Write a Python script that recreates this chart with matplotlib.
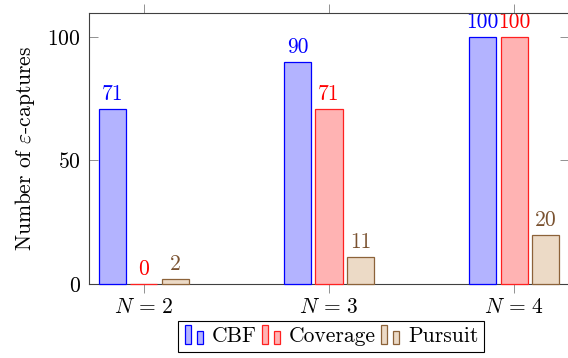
import matplotlib
matplotlib.use('Agg')
import matplotlib.pyplot as plt
from matplotlib.legend_handler import HandlerBase
from matplotlib.patches import Rectangle
import numpy as np

categories = [r'$N\,=\,2$', r'$N\,=\,3$', r'$N\,=\,4$']
series_names = ['CBF', 'Coverage', 'Pursuit']
cbf = [71, 90, 100]
coverage = [0, 71, 100]
pursuit = [2, 11, 20]
yticks = [0, 50, 100]

plt.rcParams['font.family'] = 'serif'
plt.rcParams['font.serif'] = ['cmr10', 'DejaVu Serif']
plt.rcParams['mathtext.fontset'] = 'cm'
plt.rcParams['axes.formatter.use_mathtext'] = True
plt.rcParams['font.size'] = 15.5

fills = ['#b3b3ff', '#ffb3b3', '#ecdac6']
edges = ['#0000ff', '#ff2020', '#8c6239']
label_colors = ['#0000ff', '#ff0000', '#7a5230']


class DoubleBar(HandlerBase):
    def create_artists(self, legend, orig_handle, xdescent, ydescent,
                       width, height, fontsize, trans):
        fc = orig_handle.get_facecolor()
        ec = orig_handle.get_edgecolor()
        x0, y0 = -xdescent, -ydescent - 0.12 * height
        h = height * 1.25
        r1 = Rectangle((x0 + 0.05 * width, y0), 0.28 * width, h,
                       facecolor=fc, edgecolor=ec, lw=0.9, transform=trans)
        r2 = Rectangle((x0 + 0.62 * width, y0), 0.28 * width, h * 0.72,
                       facecolor=fc, edgecolor=ec, lw=0.9, transform=trans)
        return [r1, r2]


fig = plt.figure(figsize=(5.68, 3.58), dpi=100)
ax = fig.add_axes([89 / 568, 74 / 358, 480 / 568, 271 / 358])

x = np.arange(len(categories))
off = 0.170
w = 0.146
handles = []
for i, (vals, name) in enumerate(zip([cbf, coverage, pursuit], series_names)):
    pos = x + (i - 1) * off
    b = ax.bar(pos, vals, w, color=fills[i], edgecolor=edges[i], lw=0.9,
               label=name, zorder=4, clip_on=False)
    handles.append(b.patches[0])
    for p, v in zip(pos, vals):
        ax.text(p, v + 2.0, str(v), ha='center', va='bottom',
                color=label_colors[i])

ax.set_xlim(-0.297, 2.297)
ax.set_ylim(0, 109.7)
ax.set_xticks(x)
ax.set_xticklabels(categories)
ax.set_yticks(yticks)
ax.set_ylabel(r'Number of $\varepsilon$-captures', labelpad=7)

for s in ax.spines.values():
    s.set_color('#404040')
    s.set_linewidth(0.8)
    s.set_zorder(3)
ax.tick_params(axis='x', direction='out', length=6.5, width=0.6,
               color='#808080', top=True, pad=3)
ax.tick_params(axis='y', direction='in', length=6.5, width=0.6,
               color='#808080', right=True, pad=6)

leg = ax.legend(handles, series_names, handler_map={Rectangle: DoubleBar()},
                loc='upper center', bbox_to_anchor=(0.504, -0.138), ncol=3,
                frameon=True, fancybox=False, framealpha=1, edgecolor='black',
                handlelength=1.0, handletextpad=0.3, columnspacing=0.2,
                borderpad=0.25, borderaxespad=0)
leg.get_frame().set_linewidth(0.8)

fig.savefig('out.png', dpi=100)
